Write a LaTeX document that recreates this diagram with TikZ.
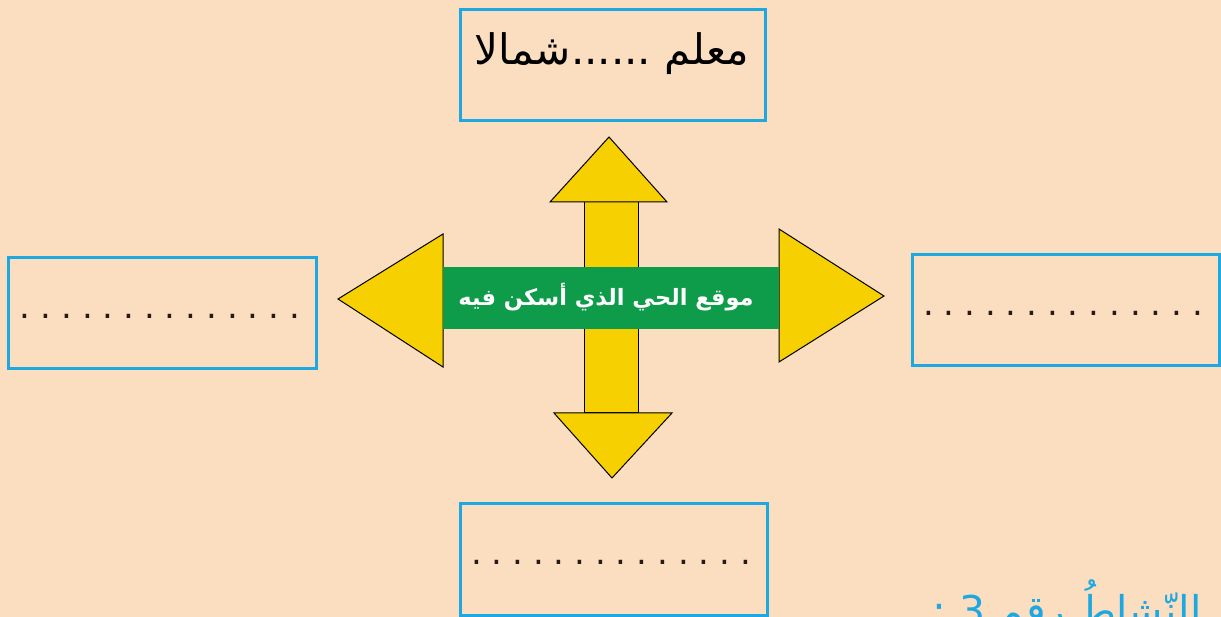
\documentclass[tikz,border=0pt]{standalone}
\usepackage{fontspec}
\setmainfont{DejaVu Sans}
\newfontfamily\arabicfont[Script=Arabic]{DejaVu Sans}
\TeXXeTstate=1
\definecolor{bgpeach}{RGB}{251,222,192}
\definecolor{boxcyan}{RGB}{30,168,226}
\definecolor{arrowyellow}{RGB}{246,208,0}
\definecolor{labelgreen}{RGB}{14,155,74}
\definecolor{dotcolor}{RGB}{40,25,25}
\newcommand\dd{.\hspace{9.9pt}}
\newcommand\dotrow{\dd\dd\dd\dd\dd\dd\dd\dd\dd\dd\dd\dd\dd.}
\begin{document}
\begin{tikzpicture}[x=1pt,y=-1pt,
  answerbox/.style={draw=boxcyan, line width=3pt, minimum width=#1, minimum height=111pt, inner sep=0pt},
  arrowpart/.style={fill=arrowyellow, draw=black, line width=1pt, line join=miter},
  dotstext/.style={font=\fontsize{34}{38}\selectfont, text=dotcolor, inner sep=0pt}]
\useasboundingbox (0,0) rectangle (1221,617);
\clip (0,0) rectangle (1221,617);
\fill[bgpeach] (0,0) rectangle (1221,617);

% boxes
\node[answerbox=305pt] (topbox) at (612.5,65.5) {};
\node[answerbox=308pt] (leftbox) at (162,313.5) {};
\node[answerbox=307pt] (rightbox) at (1065.5,310.5) {};
\node[answerbox=307pt, minimum height=112pt] (bottombox) at (613.5,559) {};

% box texts
\node[font=\arabicfont\fontsize{42}{48}\selectfont, inner sep=0pt] (toptext) at (612,54) {\beginR معلم ......شمالا\endR};
\node[dotstext] (leftdots) at (160,316) {\dotrow};
\node[dotstext] (rightdots) at (1063,313) {\dotrow};
\node[dotstext] (bottomdots) at (611,562) {\dotrow};

% cross of arrows
\draw[arrowpart] (584,202) rectangle (638,413);
\draw[arrowpart] (550,202) -- (667,202) -- (609,137) -- cycle;
\draw[arrowpart] (554,413) -- (672,413) -- (612,478) -- cycle;
\draw[arrowpart] (443,234) -- (443,367) -- (338,299) -- cycle;
\draw[arrowpart] (779,229) -- (779,362) -- (884,296) -- cycle;
\node[fill=labelgreen, minimum width=336pt, minimum height=62pt, inner sep=0pt] (center) at (611,298) {};
\node[text=white, font=\arabicfont\bfseries\fontsize{22.5}{27}\selectfont, inner sep=0pt] (centertext) at (606,297) {\beginR موقع الحي الذي أسكن فيه\endR};

% heading (cut off at the lower edge, as in the reference)
\node[text=boxcyan, font=\arabicfont\fontsize{41}{48}\selectfont, anchor=base east, inner sep=0pt] (heading) at (1202,625) {\beginR النّشاطُ رقم 3 :\endR};
\end{tikzpicture}
\end{document}
